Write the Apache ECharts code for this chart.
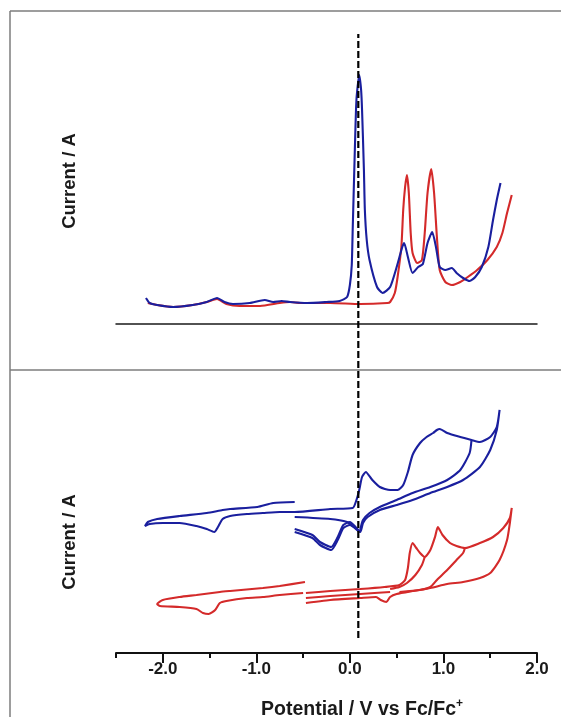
<!DOCTYPE html>
<html>
<head>
<meta charset="utf-8">
<script src="https://cdn.jsdelivr.net/npm/echarts@6/dist/echarts.min.js"></script>
<style>
html,body{margin:0;padding:0;background:#fff;}
#chart{width:561px;height:717px;}
</style>
</head>
<body>
<div id="chart"></div>
<script>
// ---------- DATA (potential in V vs Fc/Fc+, current in arbitrary units) ----------
// Top panel: differential pulse voltammograms
const dpvBlue = [[-2.18,2.6],[-2.14,2.1],[-2.06,1.9],[-1.89,1.7],[-1.68,1.9],[-1.53,2.2],[-1.42,2.6],[-1.34,2.2],[-1.25,2.0],[-1.07,2.1],[-0.91,2.4],[-0.82,2.2],[-0.73,2.3],[-0.64,2.2],[-0.46,2.1],[-0.25,2.2],[-0.11,2.3],[-0.03,2.7],[0.00,3.9],[0.02,5.9],[0.03,9.4],[0.05,16.4],[0.07,22.4],[0.10,24.9],[0.12,23.4],[0.13,21.4],[0.15,15.4],[0.16,11.4],[0.18,8.4],[0.21,6.4],[0.29,3.7],[0.35,3.1],[0.43,3.7],[0.50,5.7],[0.56,7.7],[0.58,8.1],[0.62,6.7],[0.67,5.1],[0.73,5.7],[0.78,6.0],[0.83,8.1],[0.88,9.2],[0.92,7.7],[0.96,5.7],[1.02,5.4],[1.09,5.6],[1.14,5.1],[1.21,4.6],[1.28,4.3],[1.34,4.7],[1.41,5.7],[1.48,7.7],[1.53,10.4],[1.57,12.4],[1.61,14.1]];
const dpvRed = [[-2.16,2.1],[-2.06,1.9],[-1.89,1.7],[-1.68,1.9],[-1.53,2.2],[-1.42,2.5],[-1.32,2.0],[-1.18,1.8],[-0.96,1.8],[-0.75,2.1],[-0.64,2.2],[-0.53,2.1],[-0.21,2.1],[0.11,2.0],[0.40,2.1],[0.43,2.2],[0.48,3.1],[0.51,4.7],[0.55,7.7],[0.57,11.4],[0.59,13.7],[0.61,14.9],[0.63,13.1],[0.65,9.1],[0.67,7.1],[0.72,6.1],[0.77,6.4],[0.80,9.1],[0.83,13.1],[0.87,15.5],[0.90,13.1],[0.93,8.7],[0.96,5.4],[1.02,4.2],[1.09,3.9],[1.18,4.2],[1.26,4.7],[1.36,5.4],[1.47,6.4],[1.57,7.7],[1.63,9.1],[1.68,11.1],[1.73,12.9]];

// Bottom panel: cyclic voltammograms (blue, offset upward)
const cvBlueMain = [[-0.59,15.1],[-0.82,15.0],[-0.99,14.6],[-1.28,14.4],[-1.36,14.3],[-1.53,14.0],[-1.82,13.7],[-2.06,13.4],[-2.16,13.1],[-2.19,12.7],[-2.14,12.9],[-2.00,13.0],[-1.82,13.0],[-1.64,12.7],[-1.53,12.4],[-1.45,12.1],[-1.41,12.6],[-1.36,13.4],[-1.28,13.7],[-1.10,13.9],[-0.93,14.0],[-0.75,14.1],[-0.59,14.1],[-0.21,14.4],[0.03,14.5],[0.07,15.3],[0.10,16.3],[0.13,17.6],[0.17,18.1],[0.24,17.3],[0.32,16.6],[0.43,16.3],[0.51,16.3],[0.57,16.8],[0.62,18.1],[0.67,19.8],[0.75,21.0],[0.82,21.6],[0.89,22.0],[0.93,22.3],[0.96,22.4],[1.04,22.0],[1.18,21.6],[1.30,21.3],[1.39,21.1],[1.50,21.6],[1.57,22.6],[1.60,24.3],[1.57,22.3],[1.50,20.3],[1.39,18.6],[1.21,17.3],[1.04,16.6],[0.86,16.0],[0.67,15.3],[0.50,14.8],[0.32,14.3],[0.19,13.6],[0.14,13.0],[0.11,12.1],[0.00,12.8],[-0.07,12.5],[-0.13,11.3],[-0.20,10.3],[-0.32,10.8],[-0.40,11.5],[-0.59,12.1]];
const cvBlueInner = [[1.30,21.3],[1.28,20.0],[1.18,18.3],[1.04,17.3],[0.86,16.6],[0.67,16.0],[0.50,15.3],[0.32,14.6],[0.21,14.0],[0.14,13.3],[0.11,12.3]];
const cvBlueLow = [[-0.59,13.6],[-0.21,13.4],[-0.03,13.1],[0.03,12.7],[0.11,12.1]];
const cvBlueCycle2 = [[-0.59,12.4],[-0.40,11.8],[-0.32,11.1],[-0.20,10.6],[-0.13,11.6],[-0.07,12.8],[0.00,13.1],[0.07,12.5],[0.11,12.1]];

// Bottom panel: cyclic voltammograms (red)
const cvRedLeft = [[-0.48,7.1],[-0.75,6.7],[-0.93,6.5],[-1.28,6.2],[-1.39,6.1],[-1.64,5.8],[-1.82,5.6],[-2.00,5.3],[-2.06,4.9],[-2.03,4.7],[-1.82,4.6],[-1.64,4.4],[-1.57,4.0],[-1.51,3.9],[-1.44,4.3],[-1.39,5.0],[-1.32,5.2],[-1.10,5.5],[-0.93,5.6],[-0.75,5.8],[-0.50,6.0]];
const cvRedMain = [[-0.47,6.0],[-0.21,6.2],[0.11,6.4],[0.37,6.6],[0.53,6.8],[0.59,7.3],[0.62,8.5],[0.64,10.0],[0.67,11.0],[0.71,10.5],[0.75,10.0],[0.80,9.6],[0.86,10.3],[0.91,11.6],[0.94,12.6],[0.99,11.8],[1.07,11.0],[1.14,10.7],[1.23,10.5],[1.39,11.0],[1.53,11.6],[1.64,12.5],[1.71,13.5],[1.73,14.5],[1.71,13.0],[1.68,11.3],[1.60,9.3],[1.50,8.0],[1.39,7.5],[1.21,7.1],[1.04,6.9],[0.86,6.5],[0.67,6.2],[0.50,5.9],[0.43,5.6],[0.39,5.1],[0.33,5.3],[0.28,5.6],[0.11,5.5],[-0.21,5.3],[-0.47,5.0]];
const cvRedInner2 = [[1.23,10.5],[1.21,10.0],[1.14,9.3],[1.04,8.3],[0.93,7.3],[0.86,6.6],[0.75,6.3],[0.53,6.1]];
const cvRedInner1 = [[0.80,9.6],[0.77,8.8],[0.70,7.8],[0.61,7.0],[0.53,6.6],[0.43,6.4]];
const cvRedMid = [[-0.47,5.5],[-0.21,5.7],[0.11,5.9],[0.43,6.1]];

// Reference potential (dashed line) and axis ticks
const refPotential = 0.09;
const refLine = [[refPotential,0],[refPotential,1]];
const xMajorTicks = [-2, -1, 0, 1, 2];
const xMinorTicks = [-2.5, -1.5, -0.5, 0.5, 1.5];
const xRange = [-2.5, 2.0];

// ---------- CHART ----------
const BLUE = '#1a1f9e';
const RED = '#d42a2a';
const FONT = '"Liberation Sans", Arial, sans-serif';

const chart = echarts.init(document.getElementById('chart'), null, {renderer: 'canvas'});

function lineSeries(data, color, xi, yi, w) {
  return {
    type: 'line', data: data, xAxisIndex: xi, yAxisIndex: yi,
    showSymbol: false, symbol: 'none', smooth: 0.2, silent: true, animation: false,
    lineStyle: {color: color, width: w || 2.1}, z: 3
  };
}

const option = {
  animation: false,
  backgroundColor: '#ffffff',
  grid: [
    {left: 116, right: 24, top: 24, height: 300},
    {left: 116, right: 24, top: 353, height: 300},
    {left: 116, right: 24, top: 34, bottom: 79}
  ],
  xAxis: [
    {gridIndex: 0, type: 'value', min: xRange[0], max: xRange[1],
     axisLine: {show: true, onZero: false, lineStyle: {color: '#1a1a1a', width: 1.5}},
     axisTick: {show: false}, axisLabel: {show: false}, splitLine: {show: false}},
    {gridIndex: 1, type: 'value', min: xRange[0], max: xRange[1], position: 'bottom',
     axisLine: {show: true, onZero: false, lineStyle: {color: '#111', width: 2}},
     axisTick: {show: true, customValues: xMajorTicks, length: 10, lineStyle: {color: '#111', width: 2}},
     axisLabel: {show: true, customValues: xMajorTicks, margin: 8,
       formatter: v => v.toFixed(1),
       color: '#1a1a1a', fontSize: 17, fontWeight: 'bold', fontFamily: FONT},
     splitLine: {show: false}},
    {gridIndex: 1, type: 'value', min: xRange[0], max: xRange[1], position: 'bottom', offset: 0,
     axisLine: {show: false, onZero: false},
     axisTick: {show: true, customValues: xMinorTicks, length: 5, lineStyle: {color: '#111', width: 2}},
     axisLabel: {show: false}, splitLine: {show: false}},
    {gridIndex: 2, type: 'value', min: xRange[0], max: xRange[1], show: false}
  ],
  yAxis: [
    {gridIndex: 0, type: 'value', min: 0, max: 30, show: false},
    {gridIndex: 1, type: 'value', min: 0, max: 30, show: false},
    {gridIndex: 2, type: 'value', min: 0, max: 1, show: false}
  ],
  series: [
    lineSeries(dpvRed, RED, 0, 0),
    lineSeries(dpvBlue, BLUE, 0, 0),
    lineSeries(cvRedLeft, RED, 1, 1),
    lineSeries(cvRedMain, RED, 1, 1),
    lineSeries(cvRedInner2, RED, 1, 1),
    lineSeries(cvRedInner1, RED, 1, 1),
    lineSeries(cvRedMid, RED, 1, 1),
    lineSeries(cvBlueMain, BLUE, 1, 1),
    lineSeries(cvBlueInner, BLUE, 1, 1),
    lineSeries(cvBlueLow, BLUE, 1, 1),
    lineSeries(cvBlueCycle2, BLUE, 1, 1),
    {type: 'line', data: refLine, xAxisIndex: 3, yAxisIndex: 2, showSymbol: false, symbol: 'none',
     silent: true, z: 5, lineStyle: {color: '#000', width: 2.2, type: [7, 3]}}
  ],
  graphic: [
    {type: 'line', shape: {x1: 10, y1: 11, x2: 561, y2: 11}, style: {stroke: '#7d7d7d', lineWidth: 1.5}, silent: true},
    {type: 'line', shape: {x1: 10, y1: 11, x2: 10, y2: 717}, style: {stroke: '#7d7d7d', lineWidth: 1.5}, silent: true},
    {type: 'line', shape: {x1: 10, y1: 370, x2: 561, y2: 370}, style: {stroke: '#7d7d7d', lineWidth: 1.5}, silent: true},
    {type: 'text', x: 70, y: 181, rotation: Math.PI / 2, silent: true,
     style: {text: 'Current / A', align: 'center', verticalAlign: 'middle', fill: '#1a1a1a',
       font: 'bold 18.5px ' + FONT}},
    {type: 'text', x: 70, y: 542, rotation: Math.PI / 2, silent: true,
     style: {text: 'Current / A', align: 'center', verticalAlign: 'middle', fill: '#1a1a1a',
       font: 'bold 18.5px ' + FONT}},
    {type: 'text', x: 362, y: 710, silent: true,
     style: {text: '{m|Potential / V vs Fc/Fc}{s|+}', align: 'center', verticalAlign: 'middle',
       rich: {
         m: {fontSize: 19.5, fontWeight: 'bold', fontFamily: FONT, fill: '#1a1a1a', lineHeight: 24},
         s: {fontSize: 12, fontWeight: 'bold', fontFamily: FONT, fill: '#1a1a1a', verticalAlign: 'top', lineHeight: 24}
       }}}
  ]
};
chart.setOption(option);
</script>
</body>
</html>
